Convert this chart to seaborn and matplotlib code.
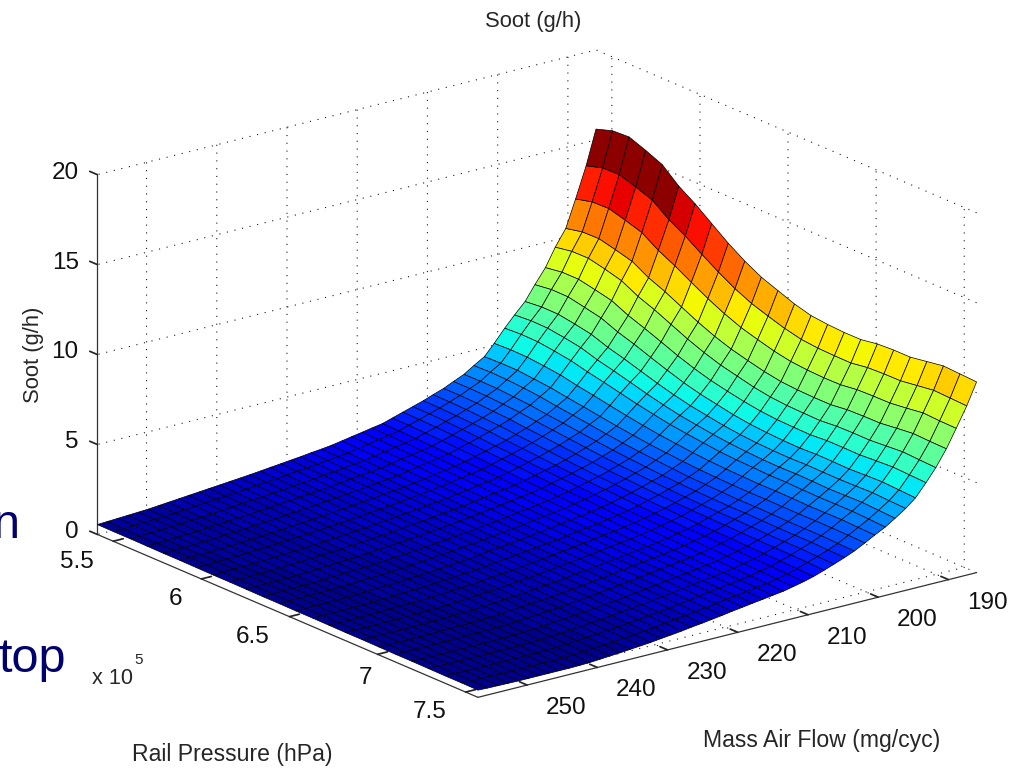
import matplotlib
matplotlib.use('Agg')
import matplotlib.pyplot as plt
from matplotlib.colors import ListedColormap, Normalize
import numpy as np
import seaborn as sns

# rail pressure in units of 1e5 hPa
rail_pressure = [5.41, 5.504, 5.598, 5.692, 5.786, 5.88, 5.973, 6.067, 6.161, 6.255, 6.349, 6.443,
                 6.537, 6.631, 6.725, 6.819, 6.913, 7.007, 7.1, 7.194, 7.288, 7.382, 7.476, 7.57]
air_flow = [257, 255.6, 254.1, 252.7, 251.2, 249.8, 248.3, 246.9, 245.4, 244, 242.5, 241.1, 239.6,
            238.2, 236.7, 235.3, 233.8, 232.4, 230.9, 229.5, 228, 226.6, 225.1, 223.7, 222.2,
            220.8, 219.3, 217.9, 216.4, 215, 213.5, 212.1, 210.6, 209.2, 207.7, 206.3, 204.8,
            203.4, 201.9, 200.5, 199, 197.6, 196.1, 194.7, 193.2, 191.8, 190.3, 188.9, 187.4, 186]

# one row per air flow value
soot = [
    [.55,.54,.54,.53,.52,.52,.51,.50,.50,.49,.48,.48,.47,.47,.46,.45,.45,.44,.43,.43,.42,.41,.41,.40],
    [.58,.57,.56,.55,.55,.54,.53,.52,.51,.50,.49,.48,.48,.47,.46,.45,.44,.43,.42,.41,.41,.40,.39,.38],
    [.61,.60,.59,.58,.57,.56,.55,.54,.53,.52,.51,.50,.49,.47,.46,.45,.44,.43,.42,.41,.40,.39,.38,.37],
    [.64,.63,.62,.60,.59,.58,.57,.55,.54,.53,.52,.51,.49,.48,.47,.46,.45,.43,.42,.41,.40,.38,.37,.36],
    [.67,.66,.64,.63,.61,.60,.59,.57,.56,.54,.53,.52,.50,.49,.48,.46,.45,.43,.42,.41,.39,.38,.36,.35],
    [.70,.68,.67,.65,.64,.62,.61,.59,.58,.56,.55,.53,.52,.50,.49,.47,.46,.44,.43,.41,.40,.38,.37,.35],
    [.75,.73,.72,.70,.68,.66,.65,.63,.61,.59,.58,.56,.54,.52,.51,.49,.47,.45,.44,.42,.40,.38,.37,.35],
    [.80,.78,.76,.74,.72,.70,.68,.66,.64,.62,.60,.58,.56,.55,.53,.51,.49,.47,.45,.43,.41,.39,.37,.35],
    [.85,.83,.81,.78,.76,.74,.72,.70,.68,.65,.63,.61,.59,.57,.55,.52,.50,.48,.46,.44,.42,.39,.37,.35],
    [.90,.88,.85,.83,.80,.78,.76,.73,.71,.69,.66,.64,.61,.59,.57,.54,.52,.49,.47,.45,.42,.40,.37,.35],
    [.95,.92,.90,.87,.85,.82,.80,.77,.74,.72,.69,.67,.64,.62,.59,.56,.54,.51,.49,.46,.44,.41,.39,.36],
    [1.00,.97,.95,.92,.89,.87,.84,.81,.78,.76,.73,.70,.68,.65,.62,.60,.57,.54,.51,.49,.46,.43,.41,.38],
    [1.05,1.02,1.00,.97,.94,.91,.89,.86,.83,.80,.78,.75,.72,.69,.67,.64,.61,.58,.56,.53,.50,.47,.45,.42],
    [1.10,1.07,1.04,1.02,.99,.96,.93,.91,.88,.85,.82,.79,.77,.74,.71,.68,.65,.63,.60,.57,.54,.52,.49,.46],
    [1.15,1.12,1.09,1.07,1.04,1.01,.98,.95,.92,.90,.87,.84,.81,.78,.75,.73,.70,.67,.64,.61,.58,.56,.53,.50],
    [1.20,1.17,1.14,1.12,1.09,1.06,1.03,1.00,.97,.95,.92,.89,.86,.83,.80,.78,.75,.72,.69,.66,.63,.61,.58,.55],
    [1.26,1.23,1.20,1.17,1.15,1.12,1.09,1.06,1.03,1.00,.97,.94,.92,.89,.86,.83,.80,.77,.74,.71,.69,.66,.63,.60],
    [1.32,1.29,1.26,1.23,1.20,1.17,1.15,1.12,1.09,1.06,1.03,1.00,.97,.94,.91,.88,.85,.82,.80,.77,.74,.71,.68,.65],
    [1.38,1.35,1.32,1.29,1.27,1.24,1.21,1.18,1.15,1.12,1.09,1.06,1.04,1.01,.98,.95,.92,.89,.86,.83,.81,.78,.75,.72],
    [1.44,1.41,1.38,1.35,1.33,1.30,1.27,1.24,1.21,1.18,1.15,1.12,1.10,1.07,1.04,1.01,.98,.95,.92,.89,.87,.84,.81,.78],
    [1.50,1.47,1.44,1.42,1.39,1.36,1.33,1.30,1.27,1.25,1.22,1.19,1.16,1.13,1.10,1.08,1.05,1.02,.99,.96,.93,.91,.88,.85],
    [1.57,1.54,1.51,1.49,1.46,1.43,1.40,1.38,1.35,1.32,1.29,1.26,1.24,1.21,1.18,1.15,1.13,1.10,1.07,1.04,1.01,.99,.96,.93],
    [1.63,1.60,1.58,1.55,1.52,1.49,1.47,1.44,1.41,1.38,1.36,1.33,1.30,1.27,1.25,1.22,1.19,1.16,1.14,1.11,1.08,1.05,1.03,1.00],
    [1.70,1.67,1.65,1.62,1.59,1.57,1.54,1.51,1.48,1.46,1.43,1.40,1.38,1.35,1.32,1.30,1.27,1.24,1.21,1.19,1.16,1.13,1.11,1.08],
    [1.80,1.77,1.75,1.72,1.69,1.66,1.63,1.60,1.57,1.54,1.51,1.48,1.45,1.42,1.40,1.37,1.34,1.32,1.29,1.26,1.23,1.21,1.19,1.16],
    [1.90,1.88,1.85,1.83,1.80,1.76,1.72,1.69,1.66,1.63,1.60,1.57,1.54,1.51,1.48,1.46,1.43,1.41,1.38,1.35,1.32,1.31,1.28,1.25],
    [2.00,1.98,1.95,1.92,1.89,1.85,1.82,1.79,1.75,1.72,1.68,1.65,1.62,1.59,1.56,1.53,1.51,1.49,1.46,1.44,1.41,1.39,1.36,1.33],
    [2.10,2.08,2.05,2.02,1.99,1.95,1.91,1.87,1.83,1.80,1.76,1.73,1.70,1.67,1.64,1.61,1.59,1.56,1.54,1.51,1.49,1.46,1.44,1.41],
    [2.20,2.18,2.16,2.13,2.09,2.05,2.00,1.96,1.92,1.88,1.84,1.81,1.78,1.75,1.72,1.69,1.67,1.63,1.61,1.59,1.56,1.54,1.52,1.49],
    [2.37,2.36,2.32,2.29,2.24,2.20,2.14,2.10,2.05,2.00,1.96,1.92,1.88,1.85,1.81,1.79,1.75,1.73,1.70,1.68,1.65,1.63,1.60,1.57],
    [2.55,2.53,2.50,2.46,2.41,2.35,2.30,2.24,2.18,2.13,2.07,2.03,1.98,1.94,1.91,1.88,1.84,1.82,1.80,1.77,1.74,1.72,1.68,1.65],
    [2.72,2.71,2.68,2.63,2.57,2.50,2.45,2.38,2.32,2.26,2.21,2.16,2.10,2.06,2.03,2.00,1.97,1.95,1.92,1.89,1.86,1.84,1.80,1.77],
    [2.90,2.89,2.85,2.81,2.76,2.67,2.61,2.54,2.46,2.40,2.34,2.29,2.24,2.19,2.15,2.13,2.09,2.07,2.05,2.01,1.99,1.97,1.93,1.90],
    [3.10,3.09,3.06,3.00,2.95,2.86,2.79,2.71,2.63,2.56,2.49,2.44,2.38,2.34,2.30,2.26,2.23,2.21,2.19,2.16,2.14,2.12,2.09,2.05],
    [3.30,3.30,3.27,3.21,3.16,3.06,2.99,2.90,2.81,2.73,2.66,2.61,2.55,2.50,2.46,2.43,2.41,2.39,2.37,2.34,2.33,2.31,2.29,2.25],
    [3.55,3.55,3.53,3.47,3.41,3.30,3.21,3.12,3.02,2.93,2.85,2.79,2.73,2.68,2.64,2.61,2.59,2.58,2.56,2.53,2.52,2.52,2.48,2.45],
    [3.80,3.81,3.80,3.73,3.66,3.54,3.45,3.34,3.23,3.13,3.05,2.98,2.91,2.86,2.82,2.80,2.77,2.78,2.76,2.74,2.73,2.73,2.70,2.67],
    [4.15,4.18,4.15,4.09,4.00,3.86,3.75,3.63,3.50,3.39,3.30,3.22,3.15,3.08,3.05,3.02,2.99,3.00,2.98,2.96,2.96,2.96,2.92,2.90],
    [4.50,4.53,4.53,4.44,4.35,4.20,4.07,3.93,3.79,3.67,3.56,3.48,3.40,3.34,3.30,3.27,3.26,3.26,3.25,3.24,3.25,3.25,3.23,3.20],
    [5.10,5.14,5.12,5.03,4.92,4.73,4.57,4.40,4.23,4.08,3.95,3.85,3.75,3.68,3.63,3.61,3.58,3.59,3.58,3.55,3.56,3.57,3.53,3.50],
    [5.80,5.85,5.83,5.71,5.57,5.34,5.15,4.94,4.73,4.55,4.38,4.26,4.15,4.05,3.99,3.96,3.92,3.93,3.90,3.88,3.89,3.89,3.85,3.80],
    [6.40,6.47,6.45,6.32,6.16,5.87,5.65,5.41,5.16,4.94,4.75,4.61,4.48,4.38,4.31,4.26,4.24,4.26,4.24,4.21,4.23,4.25,4.20,4.15],
    [7.00,7.09,7.08,6.93,6.75,6.42,6.17,5.88,5.60,5.35,5.14,4.98,4.83,4.72,4.65,4.61,4.59,4.62,4.60,4.59,4.61,4.64,4.59,4.55],
    [7.80,7.92,7.91,7.72,7.52,7.14,6.85,6.51,6.19,5.89,5.65,5.47,5.29,5.16,5.09,5.04,5.02,5.06,5.05,5.03,5.07,5.10,5.05,5.00],
    [8.60,8.74,8.74,8.55,8.34,7.91,7.58,7.22,6.85,6.53,6.26,6.06,5.88,5.74,5.66,5.63,5.61,5.68,5.68,5.67,5.73,5.78,5.74,5.70],
    [9.60,9.76,9.77,9.56,9.31,8.83,8.48,8.06,7.64,7.28,6.98,6.76,6.54,6.39,6.31,6.28,6.26,6.34,6.36,6.35,6.42,6.49,6.44,6.40],
    [10.50,10.70,10.72,10.50,10.25,9.72,9.34,8.88,8.43,8.04,7.72,7.48,7.26,7.10,7.03,7.00,7.00,7.11,7.14,7.15,7.26,7.36,7.32,7.30],
    [12.00,12.23,12.26,12.00,11.71,11.11,10.65,10.12,9.61,9.16,8.78,8.51,8.26,8.08,8.00,7.96,7.97,8.09,8.12,8.13,8.24,8.37,8.32,8.30],
    [13.70,13.97,14.00,13.70,13.36,12.67,12.15,11.53,10.94,10.41,9.98,9.67,9.38,9.16,9.07,9.04,9.03,9.17,9.21,9.22,9.35,9.48,9.44,9.40],
    [15.60,15.90,15.95,15.60,15.20,14.40,13.80,13.10,12.40,11.80,11.30,10.95,10.60,10.35,10.25,10.20,10.20,10.35,10.40,10.40,10.55,10.70,10.65,10.60],
]

rail_ticks = [5.5, 6, 6.5, 7, 7.5]
rail_labels = ['5.5', '6', '6.5', '7', '7.5']
flow_ticks = [190, 200, 210, 220, 230, 240, 250]
soot_ticks = [0, 5, 10, 15, 20]

sns.set_theme(style='white')
plt.rcParams['font.family'] = ['Liberation Sans', 'DejaVu Sans']

fig = plt.figure(figsize=(10.23, 7.68), dpi=100)
ax = fig.add_axes([142.6 / 1023, 0, 768 / 1023, 1], projection='3d', proj_type='ortho')
ax.set_box_aspect((627, 628, 381), zoom=1.22)
ax.view_init(elev=19.1, azim=-37.4)

X, Y = np.meshgrid(rail_pressure, air_flow)
Z = np.array(soot)
jet = ListedColormap(sns.mpl_palette('jet', 64))
norm = Normalize(Z.min(), 15.4, clip=True)
# flat shading: each cell takes the colour of its far row, as in the original
cell_colors = jet(norm(Z))
cell_colors[:-1] = cell_colors[1:]
surf = ax.plot_surface(X, Y, Z, facecolors=cell_colors, rstride=1, cstride=1, shade=False, linewidth=0.5)
surf.set_edgecolor('#000000')
surf.set_clip_on(False)  # the box is wider than the square 3d axes

ax.set_xlim(5.41, 7.57, view_margin=0)
ax.set_ylim(257, 186, view_margin=0)
ax.set_zlim(0, 20, view_margin=0)
ax.set_xticks(rail_ticks)
ax.set_yticks(flow_ticks)
ax.set_zticks(soot_ticks)
ax.zaxis.set_ticks_position('upper')

for axis in (ax.xaxis, ax.yaxis, ax.zaxis):
    axis.set_pane_color((1, 1, 1, 0))
    axis.pane.set_edgecolor('none')
    axis.line.set_color('#333333')
    axis.line.set_linewidth(0.9)
    axis._axinfo['grid'].update(color='k', linewidth=0.8, linestyle=(0, (1, 6)))
    axis._axinfo['tick'].update(inward_factor=0, outward_factor=0.25)
    for tick in axis.get_major_ticks():
        tick.label1.set_visible(False)
        tick.label2.set_visible(False)
ax.grid(True)

tick_font = dict(fontsize=17.5, color='#111111', va='center')
for val, lab in zip(rail_ticks, rail_labels):
    # the 7 sits closer to its tick in the original
    shift, drop = (0.1, -0.6) if lab == '7' else (0.017, -0.75)
    ax.text(val + shift, 260.2, drop, lab, ha='right', **tick_font)
for val in flow_ticks:
    ax.text(7.676, val, -0.83, str(val), ha='left', **tick_font)
for val in soot_ticks:
    ax.text(5.304, 257, val - 0.33, str(val), ha='right', **tick_font)

fig.text(533 / 1023, 1 - 21 / 768, 'Soot (g/h)', ha='center', va='center', fontsize=15.8)
fig.text(33 / 1023, 1 - 355 / 768, 'Soot (g/h)', rotation=90, ha='center', va='center', fontsize=15.8)
fig.text(232 / 1023, 1 - 755 / 768, 'Rail Pressure (hPa)', ha='center', va='center', fontsize=16.6)
fig.text(822 / 1023, 1 - 740 / 768, 'Mass Air Flow (mg/cyc)', ha='center', va='center', fontsize=16.6)
fig.text(92 / 1023, 1 - 679 / 768, 'x 10', ha='left', va='center', fontsize=15.6)
fig.text(134 / 1023, 1 - 660 / 768, '5', ha='left', va='center', fontsize=11)
fig.text(20 / 1023, 1 - 538 / 768, 'n', ha='right', va='baseline', fontsize=35, color='#00006e')
fig.text(66 / 1023, 1 - 672 / 768, 'top', ha='right', va='baseline', fontsize=35, color='#00006e')

fig.savefig('out.png', dpi=100)
